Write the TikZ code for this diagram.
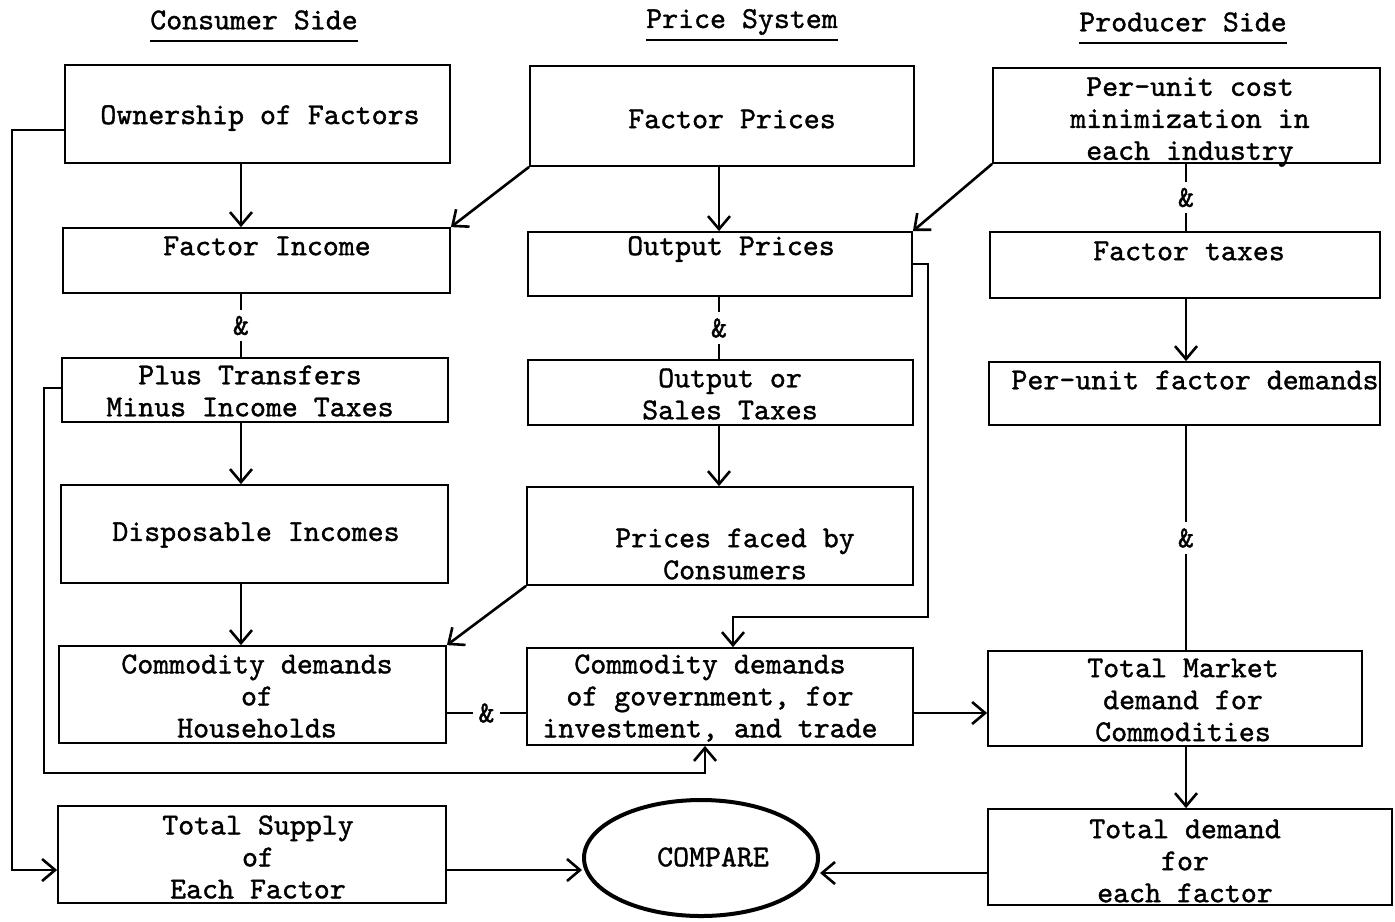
\documentclass[tikz,border=0pt]{standalone}
\usepackage{fontspec}
\newfontfamily\tw{lmmono10-regular}[Extension=.otf,FakeBold=1.2]
\usetikzlibrary{arrows.meta,fit,shapes.geometric}
\begin{document}
\begin{tikzpicture}[x=0.5pt,y=-0.5pt,
  box/.style={draw,line width=0.9pt,inner sep=0pt},
  conn/.style={line width=1pt},
  arr/.style={line width=1pt,-{Straight Barb[length=6.5pt,width=11pt,line width=1.3pt]}},
  txt/.style={font=\tw\fontsize{15.2pt}{16pt}\selectfont,align=center,inner sep=0pt},
  amp/.style={txt,fill=white,inner sep=3pt},
  hdr/.style={txt}]
\useasboundingbox (0,0) rectangle (1395,921);
% boxes
\node[box,fit={(65,65)(450,163)}] (own) {};
\node[box,fit={(63,228)(450,293)}] (fi) {};
\node[box,fit={(62,358)(448,422)}] (pt) {};
\node[box,fit={(61,485)(448,583)}] (di) {};
\node[box,fit={(59,646)(446,743)}] (ch) {};
\node[box,fit={(58,806)(446,903)}] (ts) {};
\node[box,fit={(530,66)(914,166)}] (fp) {};
\node[box,fit={(528,232)(912,296)}] (op) {};
\node[box,fit={(528,360)(913,425)}] (os) {};
\node[box,fit={(527,487)(913,585)}] (pf) {};
\node[box,fit={(527,648)(913,745)}] (cg) {};
\node[box,fit={(993,68)(1380,163)}] (pc) {};
\node[box,fit={(990,232)(1380,298)}] (ft) {};
\node[box,fit={(989,362)(1380,425)}] (pd) {};
\node[box,fit={(988,651)(1362,746)}] (tm) {};
\node[box,fit={(988,809)(1392,905)}] (td) {};
\node[ellipse,draw,line width=2pt,inner sep=0pt,minimum width=117pt,minimum height=58pt] (cmp) at (701,858) {};
% headers
\node[hdr] (h1) at (254,20) {Consumer Side};
\node[hdr] (h2) at (742,22) {Price System};
\node[hdr] (h3) at (1183,22) {Producer Side};
\foreach \h in {h1,h2,h3}{\draw[conn] ([yshift=-6pt]\h.base west) -- ([yshift=-6pt]\h.base east);}
% texts
\node[txt] (t1) at (260,118) {Ownership of Factors};
\node[txt] (t2) at (267,246) {Factor Income};
\node[txt] (t3) at (250,391) {Plus Transfers\\Minus Income Taxes};
\node[txt] (t4) at (256,535) {Disposable Incomes};
\node[txt] (t5) at (257,696) {Commodity demands\\of\\Households};
\node[txt] (t6) at (258,857) {Total Supply\\of\\Each Factor};
\node[txt] (t7) at (732,119) {Factor Prices};
\node[txt] (t8) at (731,249) {Output Prices};
\node[txt] (t9) at (730,394) {Output or\\Sales Taxes};
\node[txt] (t10) at (735,554) {Prices faced by\\Consumers};
\node[txt] (t11) at (710,698) {Commodity demands\\of government, for\\investment, and trade};
\node[txt] (t12) at (713,857) {COMPARE};
\node[txt] (t13) at (1190,122) {Per-unit cost\\minimization in\\each industry};
\node[txt] (t14) at (1189,251) {Factor taxes};
\node[txt] (t15) at (1195,380) {Per-unit factor demands};
\node[txt] (t16) at (1183,700) {Total Market\\demand for\\Commodities};
\node[txt] (t17) at (1185,861) {Total demand\\for\\each factor};
% column x positions
\coordinate (xl) at (241,0);
\coordinate (xm) at (719,0);
\coordinate (xr) at (1186,0);
% vertical connectors
\draw[arr] (own.south -| xl) -- (fi.north -| xl);
\draw[conn] (fi.south -| xl) -- node[amp]{\&} (pt.north -| xl);
\draw[arr] (pt.south -| xl) -- (di.north -| xl);
\draw[arr] (di.south -| xl) -- (ch.north -| xl);
\draw[arr] (fp.south -| xm) -- (op.north -| xm);
\draw[conn] (op.south -| xm) -- node[amp]{\&} (os.north -| xm);
\draw[arr] (os.south -| xm) -- (pf.north -| xm);
\draw[conn] (pc.south -| xr) -- node[amp]{\&} (ft.north -| xr);
\draw[arr] (ft.south -| xr) -- (pd.north -| xr);
\draw[conn] (pd.south -| xr) -- node[amp]{\&} (tm.north -| xr);
\draw[arr] (tm.south -| xr) -- (td.north -| xr);
% diagonal connectors
\draw[arr,line width=1.3pt] (fp.south west) -- (fi.north east);
\draw[arr,line width=1.3pt] (pc.south west) -- (op.north east);
\draw[arr,line width=1.3pt] (pf.south west) -- (ch.north east);
% loops
\coordinate (b1) at (12,130);
\coordinate (b2) at (12,870);
\draw[arr] (own.west |- b1) -- (b1) -- (b2) -- (ts.west |- b2);
\coordinate (b3) at (44,388);
\coordinate (b4) at (44,773);
\coordinate (b5) at (705,773);
\draw[arr] (pt.west |- b3) -- (b3) -- (b4) -- (b5) -- (cg.south -| b5);
\coordinate (b6) at (928,264);
\coordinate (b7) at (928,617);
\coordinate (b8) at (733,617);
\draw[arr] (op.east |- b6) -- (b6) -- (b7) -- (b8) -- (cg.north -| b8);
% horizontal connectors
\coordinate (b9) at (0,713);
\draw[conn] (ch.east |- b9) -- node[amp]{\&} (cg.west |- b9);
\draw[arr] (cg.east |- b9) -- (tm.west |- b9);
\coordinate (b10) at (0,873);
\draw[arr] (ts.east |- b2) -- (cmp.west |- b2);
\draw[arr] (td.west |- b10) -- (cmp.east |- b10);
\end{tikzpicture}
\end{document}
